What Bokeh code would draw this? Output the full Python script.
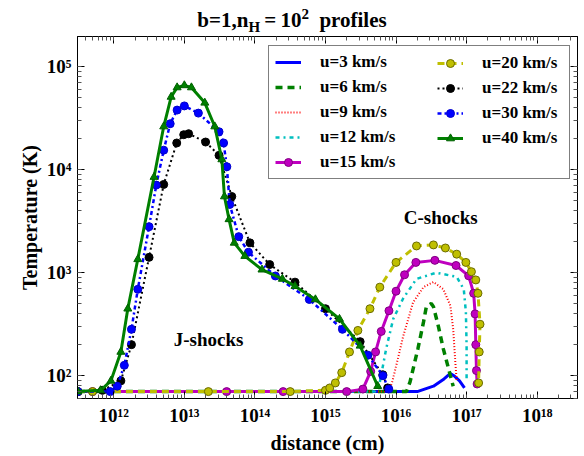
from bokeh.plotting import figure
from bokeh.layouts import column
from bokeh.models import (Range1d, LogAxis, FixedTicker, CustomJSTickFormatter,
                          Legend, LegendItem, Label, Div)
from bokeh.embed import file_html
from bokeh.resources import INLINE

# ---------------- data (distance in cm, temperature in K) ----------------
u3_d = [3.1e11, 2.0e16, 3.39e16, 4.79e16, 5.89e16, 6.61e16, 7.94e16, 9.33e16]
u3_T = [70, 70, 79, 93, 105, 100, 89, 76]

u6_d = [3.1e11, 1.41e16, 1.58e16, 2.04e16, 2.45e16, 2.69e16, 3.16e16, 3.39e16,
        3.98e16, 4.68e16, 5.89e16, 6.46e16]
u6_T = [70, 70, 87, 182, 331, 468, 501, 468, 302, 182, 100, 79]

u9_d = [3.1e11, 7.94e15, 8.91e15, 1.05e16, 1.26e16, 1.74e16, 2.45e16, 3.39e16,
        4.68e16, 5.89e16, 6.46e16, 6.92e16, 7.24e16]
u9_T = [70, 70, 89, 141, 240, 513, 724, 813, 692, 479, 282, 135, 89]

u12_d = [3.1e11, 5.01e15, 5.75e15, 7.24e15, 9.12e15, 1.26e16, 1.95e16, 3.72e16,
         7.24e16, 9.12e16, 9.77e16, 1.0e17, 1.0e17]
u12_T = [70, 70, 79, 182, 355, 562, 871, 1000, 912, 692, 417, 195, 87]

u15_d = [3.1e11, 5.0e11, 3.98e13, 2.51e14, 2.0e15, 3.39e15, 4.37e15, 5.13e15,
         6.17e15, 7.94e15, 1.0e16, 1.32e16, 1.91e16, 3.55e16, 7.08e16, 1.07e17,
         1.26e17, 1.32e17, 1.35e17, 1.38e17, 1.41e17]
u15_T = [70, 70, 70, 70, 70, 74, 110, 170, 269, 427, 661, 955, 1259, 1318, 1175,
         933, 631, 398, 200, 112, 83]

u20_d = [3.1e11, 5.0e11, 2.19e13, 3.16e14, 1.0e15, 1.15e15, 1.38e15, 1.70e15,
         2.19e15, 2.88e15, 4.27e15, 5.89e15, 1.0e16, 1.95e16, 3.39e16, 5.01e16,
         7.24e16, 9.77e16, 1.17e17, 1.35e17, 1.45e17, 1.55e17, 1.51e17, 1.48e17]
u20_T = [70, 70, 70, 70, 72, 76, 85, 107, 170, 275, 447, 724, 1259, 1820, 1862,
         1738, 1514, 1259, 1023, 851, 631, 316, 170, 85]

u22_d = [3.1e11, 6.9e11, 1.26e12, 1.78e12, 3.16e12, 5.1e12, 7.8e12, 9.8e12,
         1.15e13, 2.0e13, 3.1e13, 4.7e13, 8.5e13, 1.62e14, 3.7e14, 1.0e15,
         3.1e15, 6.5e15, 7.6e15]
u22_T = [70, 72, 89, 200, 1410, 7200, 18200, 21900, 22400, 18600, 13800, 5500,
         1950, 1200, 810, 447, 214, 102, 76]

u30_d = [3.1e11, 8.9e11, 1.12e12, 1.41e12, 1.78e12, 2.19e12, 3.16e12, 4.0e12,
         5.1e12, 6.3e12, 7.9e12, 1.0e13, 1.58e13, 3.1e13, 3.6e13, 4.0e13, 4.4e13,
         5.9e13, 8.1e13, 1.95e14, 5.9e14, 1.74e15, 4.0e15, 6.5e15, 7.9e15]
u30_T = [70, 70, 79, 126, 282, 690, 2800, 7100, 15500, 28000, 38000, 41700,
         35500, 23400, 18200, 10700, 4600, 2240, 1580, 930, 550, 282, 158, 100, 74]

u40_d = [3.1e11, 6.5e11, 9.1e11, 1.26e12, 1.58e12, 2.19e12, 3.72e12, 5.1e12,
         6.5e12, 7.9e12, 1.0e13, 1.26e13, 1.95e13, 2.7e13, 3.4e13, 3.7e13,
         4.3e13, 5.1e13, 7.2e13, 1.26e14, 2.45e14, 3.7e14, 7.2e14, 1.58e15,
         3.1e15, 5.5e15]
u40_T = [70, 72, 89, 170, 447, 1350, 8500, 26300, 51000, 63000, 66000, 63000,
         44700, 26300, 12600, 5500, 3300, 1950, 1450, 1070, 870, 740, 550, 355,
         195, 79]

labels = ["u=3 km/s", "u=6 km/s", "u=9 km/s", "u=12 km/s", "u=15 km/s",
          "u=20 km/s", "u=22 km/s", "u=30 km/s", "u=40 km/s"]

x_ticks = [1e12, 1e13, 1e14, 1e15, 1e16, 1e17, 1e18]
x_tick_labels = ["10\u00b9\u00b2", "10\u00b9\u00b3", "10\u00b9\u2074", "10\u00b9\u2075",
                 "10\u00b9\u2076", "10\u00b9\u2077", "10\u00b9\u2078"]
y_ticks = [1e2, 1e3, 1e4, 1e5]
y_tick_labels = ["10\u00b2", "10\u00b3", "10\u2074", "10\u2075"]
x_minor = [m * 10.0 ** e for e in range(11, 19) for m in range(1, 10)]
y_minor = [m * 10.0 ** e for e in range(1, 6) for m in range(1, 10)]

FONT = "Liberation Serif"

# ---------------- title strip ----------------
TH = 35
title_html = (
    '<div style="width:584px;text-align:center;padding-top:10px;'
    "font-family:'Liberation Serif',serif;font-weight:bold;font-size:21px;"
    'line-height:21px;color:black;white-space:nowrap">'
    'b=1,n<sub style="font-size:15px;line-height:0">H</sub>&thinsp;=&thinsp;10'
    '<sup style="font-size:15px;line-height:0">2</sup>&nbsp;&nbsp;profiles</div>'
)
t = Div(text=title_html, width=584, height=TH, margin=(0, 0, 0, 0))

# ---------------- main plot ----------------
p = figure(width=584, height=456 - TH, x_axis_type="log", y_axis_type="log",
           x_range=Range1d(3.06e11, 3.73e18), y_range=Range1d(60, 1.97e5),
           output_backend="svg", toolbar_location=None,
           min_border_left=77, min_border_right=7, min_border_top=1,
           min_border_bottom=56)
p.title.visible = False
p.xgrid.visible = False
p.ygrid.visible = False
p.outline_line_color = "black"
p.outline_line_width = 1
p.background_fill_color = "white"
p.border_fill_color = "white"

lookup_code = """
const i = vals.findIndex(v => Math.abs(Math.log10(v) - Math.log10(tick)) < 1e-6);
return i >= 0 ? labs[i] : "";
"""
fmt_x = CustomJSTickFormatter(args=dict(vals=x_ticks, labs=x_tick_labels), code=lookup_code)
fmt_y = CustomJSTickFormatter(args=dict(vals=y_ticks, labs=y_tick_labels), code=lookup_code)
fmt_blank = CustomJSTickFormatter(code='return "";')

top_ax = LogAxis()
right_ax = LogAxis()
p.add_layout(top_ax, "above")
p.add_layout(right_ax, "right")

def style_axis(ax, ticks, minor, fmt, show):
    ax.ticker = FixedTicker(ticks=ticks, minor_ticks=minor)
    ax.formatter = fmt
    ax.major_tick_in = 7
    ax.major_tick_out = 0
    ax.minor_tick_in = 4
    ax.minor_tick_out = 0
    ax.axis_line_color = "black"
    ax.major_tick_line_color = "black"
    ax.minor_tick_line_color = "#555555"
    ax.major_label_text_font = FONT
    ax.major_label_text_font_style = "bold"
    ax.major_label_text_color = "black"
    if show:
        ax.major_label_text_font_size = "19px"
        ax.major_label_standoff = 6
        ax.axis_label_text_font = FONT
        ax.axis_label_text_font_style = "bold"
        ax.axis_label_text_font_size = "20px"
        ax.axis_label_text_color = "black"
        ax.axis_label_standoff = 3
    else:
        ax.major_label_standoff = 0
        ax.axis_label = None

style_axis(p.below[0], x_ticks, x_minor, fmt_x, True)
style_axis(p.left[0], y_ticks, y_minor, fmt_y, True)
style_axis(top_ax, x_ticks, x_minor, fmt_blank, False)
style_axis(right_ax, y_ticks, y_minor, fmt_blank, False)
p.below[0].axis_label = "distance (cm)"
p.left[0].axis_label = "Temperature (K)"

items = []
# u=3
r = p.line(u3_d, u3_T, line_color="#0000ff", line_width=3)
items.append(LegendItem(label=labels[0], renderers=[r]))
# u=6
r = p.line(u6_d, u6_T, line_color="#008000", line_width=3.5, line_dash="7 5")
items.append(LegendItem(label=labels[1], renderers=[r]))
# u=9
r = p.line(u9_d, u9_T, line_color="#ff0000", line_width=2, line_dash="1 2")
items.append(LegendItem(label=labels[2], renderers=[r]))
# u=12
r = p.line(u12_d, u12_T, line_color="#00bfbf", line_width=2.5, line_dash="4 4 2 4")
items.append(LegendItem(label=labels[3], renderers=[r]))
# u=15
r1 = p.line(u15_d, u15_T, line_color="#bf00bf", line_width=3)
r2 = p.scatter(u15_d, u15_T, marker="circle", size=8, fill_color="#bf00bf",
               line_color="#800080")
items.append(LegendItem(label=labels[4], renderers=[r1, r2]))
# u=20
r1 = p.line(u20_d, u20_T, line_color="#bfbf00", line_width=3, line_dash="7 5")
r2 = p.scatter(u20_d, u20_T, marker="circle", size=8, fill_color="#bfbf00",
               line_color="#6b6b00")
items.append(LegendItem(label=labels[5], renderers=[r1, r2]))
# u=22
r1 = p.line(u22_d, u22_T, line_color="black", line_width=2, line_dash="2 3")
r2 = p.scatter(u22_d, u22_T, marker="circle", size=8, fill_color="black",
               line_color="black")
items.append(LegendItem(label=labels[6], renderers=[r1, r2]))
# u=30
r1 = p.line(u30_d, u30_T, line_color="#0000ff", line_width=2.5, line_dash="4 3 2 3")
r2 = p.scatter(u30_d, u30_T, marker="circle", size=8, fill_color="#0000ff",
               line_color="#0000cc")
items.append(LegendItem(label=labels[7], renderers=[r1, r2]))
# u=40
r1 = p.line(u40_d, u40_T, line_color="#008000", line_width=3)
r2 = p.scatter(u40_d, u40_T, marker="triangle", size=8, fill_color="#008000",
               line_color="#006000")
items.append(LegendItem(label=labels[8], renderers=[r1, r2]))

def make_legend(its, loc, boxed):
    lg = Legend(items=its, location=loc, margin=0, padding=6, spacing=5,
                glyph_width=26, glyph_height=20, label_height=20,
                label_standoff=19,
                label_text_font=FONT, label_text_font_style="bold",
                label_text_font_size="17px", label_text_color="black")
    if boxed:
        lg.label_width = 243
        lg.border_line_color = "black"
        lg.border_line_width = 1
        lg.background_fill_color = "white"
        lg.background_fill_alpha = 1
    else:
        lg.border_line_alpha = 0
        lg.background_fill_alpha = 0
    return lg

p.add_layout(make_legend(items[:5], (191, 219), True))
p.add_layout(make_legend(items[5:], (354, 244), False))

# annotations
p.add_layout(Label(x=2.2e13, y=224, text="J-shocks", text_align="center",
                   text_baseline="middle", text_font=FONT, text_font_style="bold",
                   text_font_size="19px", text_color="black"))
p.add_layout(Label(x=4.3e16, y=3400, text="C-shocks", text_align="center",
                   text_baseline="middle", text_font=FONT, text_font_style="bold",
                   text_font_size="19px", text_color="black"))

page = column(t, p, spacing=0)
open("out.html", "w").write(file_html(page, INLINE))
